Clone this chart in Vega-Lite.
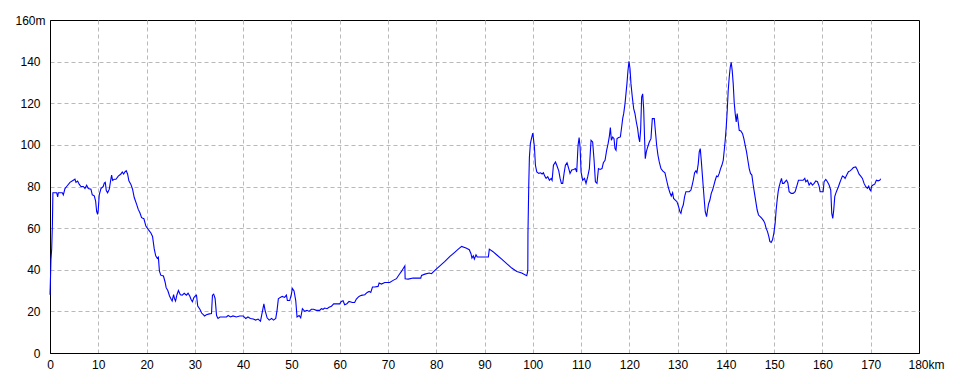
{
  "$schema": "https://vega.github.io/schema/vega-lite/v6.json",
  "width": 869,
  "height": 333,
  "autosize": {"type": "none"},
  "padding": {"left": 50, "top": 20, "right": 41, "bottom": 31},
  "background": "white",
  "config": {
    "view": {"stroke": "black", "strokeWidth": 1},
    "axis": {
      "labelFont": "Liberation Sans",
      "labelFontSize": 12,
      "labelColor": "black",
      "domainColor": "black",
      "domainWidth": 1,
      "ticks": false,
      "grid": true,
      "gridColor": "#b9b9b9",
      "gridDash": [4, 3],
      "gridWidth": 1,
      "title": null,
      "labelFlush": false,
      "labelOverlap": false
    }
  },
  "data": {
    "values": [
      {"d":0,"h":28},{"d":0.1,"h":36},{"d":0.2,"h":45},{"d":0.35,"h":50},{"d":0.5,"h":62},{"d":0.6,"h":77},
      {"d":0.69,"h":77},{"d":1.38,"h":77},{"d":1.59,"h":75},{"d":1.72,"h":77},{"d":2.55,"h":77},{"d":2.76,"h":76},
      {"d":3.1,"h":79},{"d":3.45,"h":80},{"d":4.14,"h":82},{"d":4.83,"h":83},{"d":5.17,"h":83.5},{"d":5.38,"h":82},
      {"d":5.72,"h":82.6},{"d":6.07,"h":81},{"d":6.41,"h":80},{"d":6.9,"h":80},{"d":7.24,"h":79},{"d":7.59,"h":80.6},
      {"d":7.93,"h":79},{"d":8.48,"h":78.7},{"d":8.76,"h":76},{"d":9.17,"h":75.5},{"d":9.45,"h":73},{"d":9.66,"h":68},
      {"d":9.86,"h":66.6},{"d":10.0,"h":69},{"d":10.2,"h":76},{"d":10.55,"h":79},{"d":11.03,"h":80},{"d":11.24,"h":81.6},
      {"d":11.45,"h":82},{"d":11.66,"h":78},{"d":11.93,"h":77},{"d":12.28,"h":78.7},{"d":12.55,"h":82.7},{"d":12.76,"h":85.5},
      {"d":12.97,"h":83},{"d":13.31,"h":83.5},{"d":13.66,"h":83.5},{"d":14.14,"h":85},{"d":14.69,"h":86},{"d":14.97,"h":87},
      {"d":15.24,"h":86},{"d":15.52,"h":87},{"d":15.79,"h":87.6},{"d":16.07,"h":86},{"d":16.34,"h":82.7},{"d":16.76,"h":81},
      {"d":17.1,"h":78.7},{"d":17.45,"h":74.7},{"d":17.93,"h":71.5},{"d":18.28,"h":69},{"d":18.62,"h":67.4},{"d":18.97,"h":65},
      {"d":19.45,"h":64.5},{"d":19.86,"h":61},{"d":20.34,"h":59.4},{"d":20.9,"h":57.7},{"d":21.24,"h":56},{"d":21.59,"h":50},
      {"d":21.9,"h":46.7},{"d":22.24,"h":45.4},{"d":22.45,"h":46},{"d":22.66,"h":39.5},{"d":22.94,"h":37.4},{"d":23.5,"h":37},
      {"d":23.85,"h":34},{"d":24.06,"h":31.4},{"d":24.4,"h":30},{"d":24.76,"h":27.4},{"d":25.1,"h":25.8},{"d":25.3,"h":25},
      {"d":25.6,"h":28},{"d":25.8,"h":26},{"d":26.0,"h":25},{"d":26.3,"h":28},{"d":26.6,"h":30},{"d":27.0,"h":28},
      {"d":27.4,"h":27.8},{"d":27.8,"h":28.7},{"d":28.25,"h":27.8},{"d":28.6,"h":28.7},{"d":28.95,"h":27.4},{"d":29.2,"h":25.8},
      {"d":29.5,"h":24.6},{"d":29.8,"h":26.6},{"d":30.1,"h":27.4},{"d":30.35,"h":27.8},{"d":30.6,"h":22.6},{"d":31.05,"h":21},
      {"d":31.4,"h":19.2},{"d":31.75,"h":18.4},{"d":32.0,"h":17.8},{"d":32.4,"h":18.4},{"d":33.0,"h":18.8},{"d":33.45,"h":19},
      {"d":33.65,"h":27.8},{"d":33.9,"h":28.3},{"d":34.2,"h":26.2},{"d":34.5,"h":18},{"d":34.8,"h":16.6},{"d":35.2,"h":17.3},
      {"d":35.9,"h":17.3},{"d":36.55,"h":17.3},{"d":36.9,"h":18},{"d":37.4,"h":17.3},{"d":37.9,"h":17.8},{"d":38.6,"h":17.3},
      {"d":39.3,"h":17.8},{"d":40.0,"h":17.8},{"d":40.55,"h":16.6},{"d":41.0,"h":17.3},{"d":41.5,"h":16.6},{"d":42.1,"h":16.3},
      {"d":42.6,"h":15.8},{"d":43.1,"h":16.3},{"d":43.6,"h":15.3},{"d":44.0,"h":20},{"d":44.3,"h":23.6},{"d":44.55,"h":20.5},
      {"d":44.97,"h":16.9},{"d":45.4,"h":15.8},{"d":45.9,"h":16.6},{"d":46.3,"h":15.8},{"d":46.76,"h":16.6},{"d":47.03,"h":20.5},
      {"d":47.3,"h":26},{"d":47.7,"h":26.7},{"d":48.1,"h":27.2},{"d":48.6,"h":26.7},{"d":48.97,"h":27.8},{"d":49.17,"h":25.2},
      {"d":49.66,"h":25.2},{"d":50.0,"h":28.3},{"d":50.2,"h":31},{"d":50.55,"h":29.8},{"d":50.9,"h":25.2},{"d":51.17,"h":17.3},
      {"d":51.6,"h":18},{"d":51.93,"h":16.9},{"d":52.28,"h":21.3},{"d":52.76,"h":20},{"d":53.24,"h":20.5},{"d":53.66,"h":20},
      {"d":54.14,"h":21},{"d":54.6,"h":21},{"d":55.17,"h":20.5},{"d":55.86,"h":20.5},{"d":56.2,"h":21.3},{"d":56.55,"h":21},
      {"d":56.9,"h":21.6},{"d":57.38,"h":21.3},{"d":57.8,"h":22},{"d":58.3,"h":22.5},{"d":58.76,"h":23.6},{"d":59.3,"h":23.6},
      {"d":60.0,"h":23.6},
      {"d":60.35,"h":24.8},{"d":60.7,"h":25.1},{"d":61.04,"h":23.2},{"d":61.5,"h":23.7},{"d":61.94,"h":24.8},{"d":62.63,"h":24.3},
      {"d":63.1,"h":24.3},{"d":63.46,"h":25.9},{"d":64.0,"h":27.2},{"d":64.5,"h":27.7},{"d":65.2,"h":28},{"d":65.7,"h":29.1},
      {"d":66.1,"h":29.6},{"d":66.44,"h":29.1},{"d":66.8,"h":31.7},{"d":67.27,"h":31.7},{"d":67.96,"h":32},{"d":68.17,"h":33.6},
      {"d":68.65,"h":33.1},{"d":69.34,"h":33.9},{"d":70.38,"h":33.9},{"d":71.07,"h":34.9},{"d":71.76,"h":35.7},{"d":72.3,"h":37.6},
      {"d":72.8,"h":39.2},{"d":73.5,"h":41.9},{"d":73.56,"h":35.7},{"d":74.2,"h":35.5},{"d":75.2,"h":36},{"d":76.8,"h":36},
      {"d":76.95,"h":37.3},{"d":77.65,"h":37.9},{"d":78.55,"h":38.4},{"d":79.03,"h":38.1},{"d":79.72,"h":39.7},{"d":80.76,"h":41.9},
      {"d":81.8,"h":44},{"d":82.84,"h":46.4},{"d":83.88,"h":48.5},{"d":84.57,"h":49.9},{"d":85.26,"h":51.2},{"d":86.16,"h":50.4},
      {"d":86.85,"h":49.6},{"d":87.2,"h":47.7},{"d":87.4,"h":45.6},{"d":87.68,"h":46.7},{"d":87.9,"h":45.1},{"d":88.24,"h":47.2},
      {"d":88.5,"h":46.1},{"d":89.4,"h":46.1},{"d":90.8,"h":46.1},{"d":91.0,"h":49.9},{"d":91.7,"h":48.8},{"d":92.5,"h":47.2},
      {"d":93.56,"h":45.1},{"d":94.6,"h":42.9},{"d":95.64,"h":40.8},{"d":96.7,"h":39.2},{"d":97.7,"h":38.4},{"d":98.75,"h":37.1},
      {"d":98.9,"h":38.7},{"d":98.97,"h":40},{"d":99.0,"h":57},{"d":99.17,"h":81},{"d":99.3,"h":94},{"d":99.5,"h":100.6},
      {"d":99.72,"h":103},{"d":100.0,"h":105.7},
      {"d":100.14,"h":103},{"d":100.34,"h":99},{"d":100.55,"h":90.2},{"d":100.83,"h":87},{"d":101.24,"h":86.3},{"d":101.6,"h":86.6},
      {"d":101.93,"h":86},{"d":102.2,"h":86.6},{"d":102.48,"h":85},{"d":102.76,"h":83.9},{"d":103.1,"h":84.7},{"d":103.45,"h":83},
      {"d":103.8,"h":83.9},{"d":104.0,"h":83},{"d":104.28,"h":90.2},{"d":104.7,"h":91.8},{"d":104.97,"h":90.2},{"d":105.38,"h":87.5},
      {"d":105.66,"h":83.9},{"d":105.93,"h":81.5},{"d":106.2,"h":81.5},{"d":106.48,"h":86.3},{"d":106.76,"h":90.2},{"d":107.1,"h":91.4},
      {"d":107.45,"h":88.6},{"d":107.72,"h":86.3},{"d":108.07,"h":87.9},{"d":108.48,"h":88.2},{"d":108.83,"h":88.6},{"d":109.1,"h":87},
      {"d":109.38,"h":99.8},{"d":109.6,"h":103.5},{"d":109.8,"h":99},{"d":110.0,"h":87},{"d":110.34,"h":83},{"d":110.7,"h":83.9},
      {"d":111.03,"h":81.5},{"d":111.38,"h":84.7},{"d":111.72,"h":88.6},{"d":112.07,"h":102.2},{"d":112.4,"h":101.4},{"d":112.7,"h":92.6},
      {"d":112.97,"h":82.3},{"d":113.3,"h":81.5},{"d":113.6,"h":88.6},{"d":113.93,"h":88.2},{"d":114.34,"h":88.6},{"d":114.62,"h":91.4},
      {"d":114.97,"h":92.6},{"d":115.3,"h":97.4},{"d":115.6,"h":100.6},{"d":115.86,"h":104.1},{"d":116.07,"h":108.3},{"d":116.28,"h":102.2},
      {"d":116.55,"h":103.8},{"d":116.83,"h":103},{"d":117.03,"h":98.2},{"d":117.24,"h":97.4},{"d":117.45,"h":103},{"d":117.8,"h":103.5},
      {"d":118.14,"h":103.8},{"d":118.41,"h":108.6},{"d":118.62,"h":112.6},{"d":118.83,"h":115},{"d":119.1,"h":119.7},{"d":119.3,"h":124.5},
      {"d":119.5,"h":129.3},{"d":119.72,"h":135.7},{"d":119.93,"h":140.2},{"d":120.14,"h":136.5},{"d":120.34,"h":129.3},{"d":120.62,"h":122.9},
      {"d":120.9,"h":117.4},{"d":121.17,"h":115},{"d":121.45,"h":111},{"d":121.72,"h":107.8},{"d":121.93,"h":103.8},{"d":122.14,"h":101.4},
      {"d":122.34,"h":107},{"d":122.55,"h":122.9},{"d":122.76,"h":124.5},{"d":122.97,"h":117.4},{"d":123.17,"h":102.2},{"d":123.3,"h":93.4},
      {"d":123.52,"h":96.6},{"d":123.8,"h":99},{"d":124.14,"h":101.4},{"d":124.48,"h":103},{"d":124.76,"h":112.6},{"d":125.17,"h":112.6},
      {"d":125.38,"h":107},{"d":125.66,"h":99.8},{"d":125.93,"h":95},{"d":126.2,"h":91.8},{"d":126.55,"h":88.6},{"d":126.9,"h":87.5},
      {"d":127.38,"h":86.6},{"d":127.72,"h":83},{"d":128.07,"h":79.6},{"d":128.41,"h":77},{"d":128.69,"h":75.4},{"d":128.97,"h":77},
      {"d":129.17,"h":74.3},{"d":129.52,"h":73.5},{"d":129.86,"h":72.7},{"d":130.2,"h":70.3},{"d":130.48,"h":67.9},{"d":130.69,"h":67.1},
      {"d":130.9,"h":69.5},{"d":131.17,"h":71.1},{"d":131.45,"h":75.1},{"d":131.72,"h":77.5},{"d":132.07,"h":77.5},{"d":132.41,"h":77.5},
      {"d":132.76,"h":78.3},{"d":132.97,"h":80.2},{"d":133.24,"h":83},{"d":133.52,"h":86.6},{"d":133.79,"h":87.5},{"d":134.0,"h":86.6},
      {"d":134.28,"h":91},{"d":134.48,"h":96.6},{"d":134.69,"h":98.2},{"d":134.9,"h":92.6},{"d":135.1,"h":86.3},{"d":135.31,"h":79.9},
      {"d":135.52,"h":73.5},{"d":135.72,"h":67.9},{"d":136.0,"h":65.5},{"d":136.2,"h":68.7},{"d":136.41,"h":71.6},{"d":136.69,"h":73.5},
      {"d":136.97,"h":76.7},{"d":137.24,"h":78.3},{"d":137.52,"h":80.7},{"d":137.79,"h":83},{"d":138.07,"h":85},{"d":138.34,"h":84.7},
      {"d":138.62,"h":86.3},{"d":138.9,"h":88.6},{"d":139.17,"h":90.2},{"d":139.45,"h":92.6},{"d":139.66,"h":97.4},{"d":139.86,"h":102.2},
      {"d":140.07,"h":108.6},{"d":140.28,"h":116.6},{"d":140.48,"h":126.1},{"d":140.69,"h":132.5},{"d":140.9,"h":137.3},{"d":141.1,"h":139.7},
      {"d":141.31,"h":135.7},{"d":141.52,"h":129.3},{"d":141.72,"h":120.5},{"d":141.93,"h":115},{"d":142.14,"h":111},{"d":142.34,"h":115},
      {"d":142.55,"h":111},{"d":142.76,"h":107},{"d":143.1,"h":106.7},{"d":143.45,"h":105.4},{"d":143.72,"h":103},{"d":144.0,"h":99.8},
      {"d":144.28,"h":96.6},{"d":144.55,"h":92.6},{"d":144.83,"h":88.6},{"d":145.1,"h":86.3},{"d":145.38,"h":85.5},{"d":145.66,"h":80.7},
      {"d":145.93,"h":76.7},{"d":146.2,"h":72.7},{"d":146.48,"h":68.7},{"d":146.76,"h":66.3},{"d":147.1,"h":65.5},{"d":147.45,"h":64.7},
      {"d":147.8,"h":63.6},{"d":148.07,"h":62.3},{"d":148.34,"h":59.9},{"d":148.62,"h":58.3},{"d":148.9,"h":55.9},{"d":149.1,"h":53.6},
      {"d":149.38,"h":53.1},{"d":149.66,"h":54.4},{"d":149.93,"h":57.5},{"d":150.2,"h":62.3},{"d":150.41,"h":68.7},{"d":150.62,"h":73.5},
      {"d":150.83,"h":77.5},{"d":151.03,"h":79.9},{"d":151.31,"h":82.3},{"d":151.52,"h":83.9},{"d":151.72,"h":81.5},{"d":152.0,"h":81.5},
      {"d":152.28,"h":82.3},{"d":152.55,"h":83},{"d":152.83,"h":81.8},{"d":153.1,"h":77.5},{"d":153.52,"h":76.7},{"d":153.93,"h":76.7},
      {"d":154.34,"h":77.5},{"d":154.69,"h":80.2},{"d":155.03,"h":83},{"d":155.52,"h":83},{"d":156.0,"h":83},{"d":156.34,"h":83.9},
      {"d":156.55,"h":82.3},{"d":156.9,"h":83},{"d":157.24,"h":80.7},{"d":157.59,"h":81.8},{"d":157.93,"h":80.7},{"d":158.28,"h":81.5},
      {"d":158.62,"h":82.7},{"d":158.97,"h":82.3},{"d":159.31,"h":80.2},{"d":159.52,"h":77.5},{"d":159.86,"h":77.5},{"d":160.14,"h":77.5},
      {"d":160.34,"h":82.3},{"d":160.69,"h":83.4},{"d":161.03,"h":82.3},{"d":161.38,"h":80.7},{"d":161.72,"h":78.3},{"d":161.93,"h":67.1},
      {"d":162.14,"h":64.7},{"d":162.34,"h":68.7},{"d":162.55,"h":75.1},{"d":162.76,"h":76.7},{"d":163.03,"h":78.3},{"d":163.31,"h":79.9},
      {"d":163.59,"h":81.8},{"d":163.86,"h":83.4},{"d":164.14,"h":85},{"d":164.41,"h":84.7},{"d":164.69,"h":83.9},{"d":165.03,"h":85.5},
      {"d":165.38,"h":87.1},{"d":165.72,"h":87.5},{"d":166.07,"h":88.2},{"d":166.41,"h":89.1},{"d":166.9,"h":89.4},{"d":167.24,"h":87.9},
      {"d":167.59,"h":85.9},{"d":167.93,"h":85},{"d":168.28,"h":83.9},{"d":168.62,"h":81.5},{"d":168.97,"h":79.9},{"d":169.31,"h":79.1},
      {"d":169.59,"h":80.2},{"d":169.79,"h":78.6},{"d":170.0,"h":78},{"d":170.2,"h":80.2},{"d":170.48,"h":80.7},{"d":170.83,"h":81.1},
      {"d":171.17,"h":83},{"d":171.52,"h":82.7},{"d":171.86,"h":83},{"d":172.07,"h":83.7}
    ]
  },
  "mark": {"type": "line", "color": "#0000ff", "strokeWidth": 1.1, "interpolate": "linear"},
  "encoding": {
    "x": {
      "field": "d",
      "type": "quantitative",
      "scale": {"domain": [0, 180], "nice": false, "zero": true},
      "axis": {
        "values": [0, 10, 20, 30, 40, 50, 60, 70, 80, 90, 100, 110, 120, 130, 140, 150, 160, 170, 180],
        "labelExpr": "datum.value == 180 ? '180km' : datum.label",
        "labelPadding": 6,
        "labelOffset": {"condition": {"test": "datum.value == 180", "value": 7}, "value": 0},
        "gridOpacity": {"condition": {"test": "datum.value == 180 || datum.value == 0", "value": 0}, "value": 1}
      }
    },
    "y": {
      "field": "h",
      "type": "quantitative",
      "scale": {"domain": [0, 160], "nice": false, "zero": true},
      "axis": {
        "values": [0, 20, 40, 60, 80, 100, 120, 140, 160],
        "labelExpr": "datum.value == 160 ? '160m' : datum.label",
        "labelPadding": {"condition": {"test": "datum.value == 160", "value": 5}, "value": 10},
        "gridOpacity": {"condition": {"test": "datum.value == 160 || datum.value == 0", "value": 0}, "value": 1}
      }
    }
  }
}
